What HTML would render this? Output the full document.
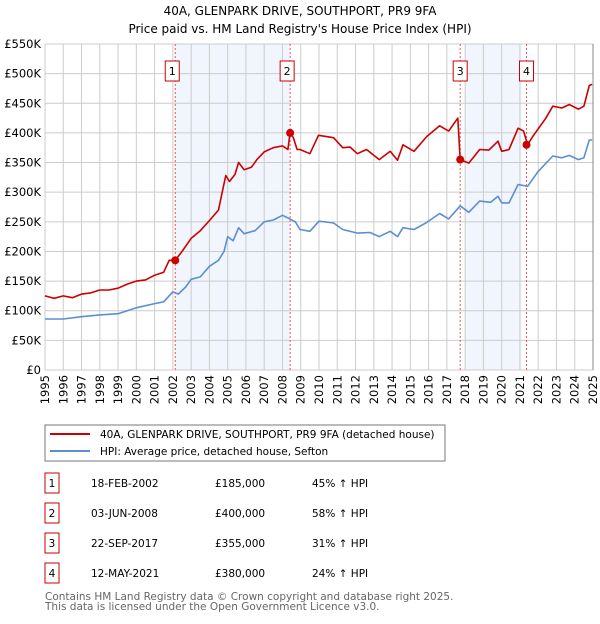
<!DOCTYPE html>
<html><head><meta charset="utf-8"><style>
body{margin:0;background:#fff;font-family:"DejaVu Sans","Liberation Sans",sans-serif;}
svg text{font-family:"DejaVu Sans","Liberation Sans",sans-serif;}
</style></head><body>
<svg id="chart" width="600" height="620" viewBox="0 0 600 620" xmlns="http://www.w3.org/2000/svg">
<text x="300" y="15" text-anchor="middle" font-size="12">40A, GLENPARK DRIVE, SOUTHPORT, PR9 9FA</text>
<text x="300" y="33" text-anchor="middle" font-size="12">Price paid vs. HM Land Registry's House Price Index (HPI)</text>
<g id="plot"></g>
<rect x="45" y="425" width="400" height="36" fill="#fff" stroke="#777"/>
<line x1="50" y1="434" x2="90" y2="434" stroke="#cc0000" stroke-width="2"/>
<text x="100" y="438" font-size="10.5">40A, GLENPARK DRIVE, SOUTHPORT, PR9 9FA (detached house)</text>
<line x1="50" y1="451" x2="90" y2="451" stroke="#5b8fd4" stroke-width="2"/>
<text x="100" y="455" font-size="10.5">HPI: Average price, detached house, Sefton</text>
<g id="table" font-size="10.5"></g>
<text x="45" y="600" font-size="10.5" fill="#666">Contains HM Land Registry data © Crown copyright and database right 2025.</text>
<text x="45" y="610" font-size="10.5" fill="#666">This data is licensed under the Open Government Licence v3.0.</text>
</svg>
<script>
const yTicks=[0,50,100,150,200,250,300,350,400,450,500,550];
const yTickLabels=["£0","£50K","£100K","£150K","£200K","£250K","£300K","£350K","£400K","£450K","£500K","£550K"];
const xYears=[1995,1996,1997,1998,1999,2000,2001,2002,2003,2004,2005,2006,2007,2008,2009,2010,2011,2012,2013,2014,2015,2016,2017,2018,2019,2020,2021,2022,2023,2024,2025];
const redT=[1995,1995.5,1996,1996.5,1997,1997.5,1998,1998.5,1999,1999.5,2000,2000.5,2001,2001.5,2001.8,2002.13,2002.5,2003,2003.5,2004,2004.5,2004.7,2004.9,2005.1,2005.4,2005.6,2005.9,2006.3,2006.6,2007,2007.5,2008,2008.3,2008.42,2008.6,2008.8,2008.96,2009.5,2009.97,2010.8,2011.3,2011.7,2012.1,2012.6,2013.3,2013.9,2014.3,2014.6,2015.2,2015.9,2016.6,2017.1,2017.6,2017.73,2018.2,2018.8,2019.3,2019.8,2020,2020.4,2020.9,2021.2,2021.42,2021.7,2022.4,2022.8,2023.3,2023.7,2024.2,2024.5,2024.8,2024.95];
const redV=[125,121,125,122,128,130,135,135,138,145,150,152,160,165,185,185,200,222,235,252,270,300,328,318,330,350,338,342,355,368,375,378,372,400,392,372,372,365,396,392,375,376,365,372,355,369,354,380,369,394,412,403,425,355,349,372,371,386,369,372,408,403,380,394,424,445,442,448,440,445,480,482];
const blueT=[1995,1996,1997,1998,1999,2000,2001,2001.5,2002,2002.3,2002.7,2003,2003.5,2004,2004.5,2004.8,2005,2005.3,2005.6,2005.9,2006.5,2007,2007.5,2008,2008.4,2008.7,2008.96,2009.5,2010,2010.8,2011.3,2012.1,2012.8,2013.3,2013.9,2014.3,2014.6,2015.2,2015.9,2016.6,2017.1,2017.73,2018.2,2018.8,2019.4,2019.8,2020,2020.4,2020.9,2021.42,2022,2022.8,2023.3,2023.7,2024.2,2024.5,2024.8,2024.95];
const blueV=[86,86,90,93,95,105,112,115,132,128,140,153,157,175,185,200,225,218,240,230,235,250,253,261,255,250,237,234,251,248,237,231,232,225,234,225,240,237,249,264,255,277,266,285,283,293,282,282,313,310,335,361,358,362,355,358,388,388];
const saleT=[2002.13,2008.42,2017.73,2021.36];
const saleV=[185,400,355,380];
const saleLabels=["1","2","3","4"];
const saleDates=["18-FEB-2002","03-JUN-2008","22-SEP-2017","12-MAY-2021"];
const salePrices=["£185,000","£400,000","£355,000","£380,000"];
const saleHpi=["45% ↑ HPI","58% ↑ HPI","31% ↑ HPI","24% ↑ HPI"];
const shadeStart=[2002.13,2018.0];
const shadeEnd=[2008.42,2021.1];

const NS="http://www.w3.org/2000/svg";
const X0=45,X1=593,Y0=370,Y1=44;
const xs=t=>X0+(t-1995)/30*(X1-X0);
const ys=v=>Y0-v/550*(Y0-Y1);
const plot=document.getElementById('plot');
function mk(tag,attrs,parent){const e=document.createElementNS(NS,tag);for(const k in attrs)e.setAttribute(k,attrs[k]);(parent||plot).appendChild(e);return e;}
for(let i=0;i<shadeStart.length;i++){
 const r=mk('rect',{x:xs(shadeStart[i]),y:Y1,width:xs(shadeEnd[i])-xs(shadeStart[i]),height:Y0-Y1,fill:'#eef3fc',opacity:0.8});
 
 
}
yTicks.forEach((v,i)=>{
 const l=mk('line',{x1:X0,x2:X1,y1:ys(v),y2:ys(v),stroke:'#ccc','stroke-width':1});
 
 
 const t=mk('text',{x:X0-4,y:ys(v)+4,'text-anchor':'end','font-size':11.5});
 t.textContent=yTickLabels[i];
 
 
});
xYears.forEach(yr=>{
 const l=mk('line',{x1:xs(yr),x2:xs(yr),y1:Y1,y2:Y0,stroke:'#ccc','stroke-width':1});
 
 
 const t=mk('text',{x:0,y:0,'text-anchor':'end','font-size':11.5,transform:`translate(${xs(yr)+4},375) rotate(-90)`});
 t.textContent=yr;
 
 
});
saleT.forEach((t,i)=>{
 const l=mk('line',{x1:xs(t),x2:xs(t),y1:Y1,y2:Y0,stroke:'#e55','stroke-width':1,'stroke-dasharray':'2,2'});
 
 
});
function path(T,V,color,name){
 const d=T.map((t,i)=>(i?'L':'M')+xs(t).toFixed(1)+','+ys(V[i]).toFixed(1)).join('');
 const p=mk('path',{d:d,fill:'none',stroke:color,'stroke-width':1.6,'stroke-linejoin':'round'});
 
 
}
path(blueT,blueV,'#5b8fd4','hpi-line');
path(redT,redV,'#cc0000','property-price-line');
saleT.forEach((t,i)=>{
 const c=mk('circle',{cx:xs(t),cy:ys(saleV[i]),r:4,fill:'#cc0000'});
 
 
 const bx=xs(t)-(i<2?10:7);
 const r=mk('rect',{x:bx,y:61,width:14,height:20,fill:'#fff',stroke:'#cc0000'});
 
 
 const tx=mk('text',{x:bx+7,y:75,'text-anchor':'middle','font-size':11});
 tx.textContent=saleLabels[i];
 
 
});
mk('line',{x1:X1,x2:X1,y1:Y1,y2:Y0,stroke:'#888'});
const tbl=document.getElementById('table');
saleT.forEach((t,i)=>{
 const cy=483+i*30;
 const r=mk('rect',{x:45,y:cy-10,width:14,height:20,fill:'#fff',stroke:'#cc0000'},tbl);
 
 
 const cells=[[52,saleLabels[i],'middle'],[91,saleDates[i],'start'],[215,salePrices[i],'start'],[312,saleHpi[i],'start']];
 cells.forEach(c=>{
  const tx=mk('text',{x:c[0],y:cy+4,'text-anchor':c[2]},tbl);
  tx.textContent=c[1];
  
  
 });
});
</script>
</body></html>
